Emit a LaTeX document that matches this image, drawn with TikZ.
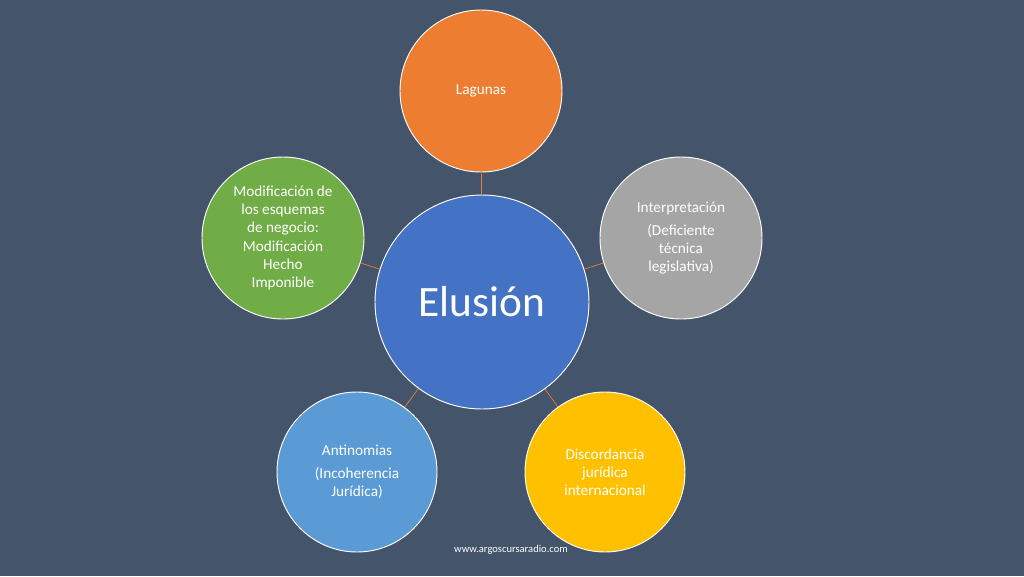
\documentclass[tikz,border=0pt]{standalone}
\usepackage{fontspec}
\setmainfont{Carlito}
\definecolor{bg}{HTML}{44546A}
\definecolor{cor}{HTML}{ED7D31}
\definecolor{cgr}{HTML}{A5A5A5}
\definecolor{cye}{HTML}{FFC000}
\definecolor{cbl}{HTML}{5B9BD5}
\definecolor{cgn}{HTML}{70AD47}
\definecolor{cce}{HTML}{4472C4}
\begin{document}
\begin{tikzpicture}[x=0.03cm,y=-0.03cm,
  bub/.style={circle,draw=white,line width=0.8pt,text=white,align=center,font=\fontsize{13}{15.5}\selectfont,inner sep=0pt,minimum size=#1*0.06cm},
  link/.style={draw=cor,line width=0.6pt}]
\fill[bg] (0,0) rectangle (1024,576);
\useasboundingbox (0,0) rectangle (1024,576);
\node[bub=107,fill=cce,font=\fontsize{37}{40}\selectfont] (c) at (482,302) {Elusión};
\node[bub=81,fill=cor] (l) at (481,91) {Lagunas};
\node[bub=81,fill=cgr] (i) at (681,238) {Interpretación\\[4pt](Deficiente\\técnica\\legislativa)};
\node[bub=80,fill=cye] (d) at (605,472) {Discordancia\\jurídica\\internacional};
\node[bub=80,fill=cbl] (a) at (357,472) {Antinomias\\[4pt](Incoherencia\\Jurídica)};
\node[bub=81,fill=cgn] (m) at (283,238) {Modificación de\\los esquemas\\de negocio:\\Modificación\\Hecho\\Imponible};
\foreach \n in {l,i,d,a,m} \draw[link] (c) -- (\n);
\node[text=white,font=\fontsize{9}{10}\selectfont] (w) at (511,550) {www.argoscursaradio.com};
\end{tikzpicture}
\end{document}
